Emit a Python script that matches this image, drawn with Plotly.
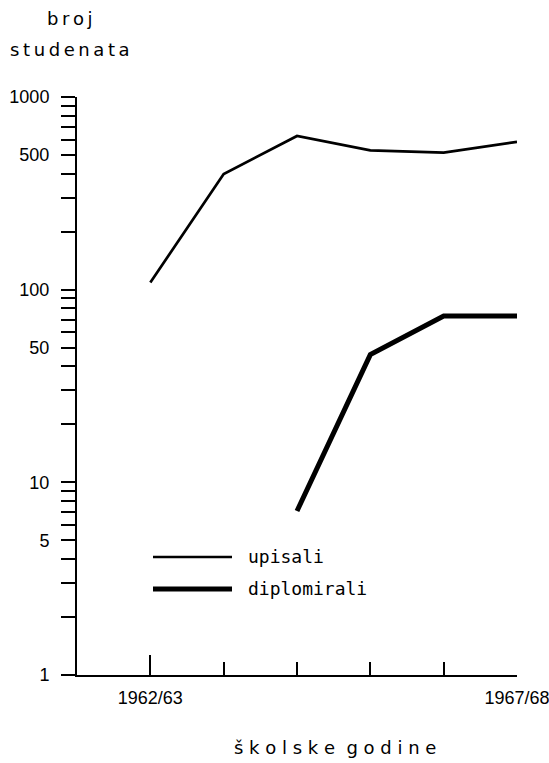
import plotly.graph_objects as go

years = ["1962/63", "1963/64", "1964/65", "1965/66", "1966/67", "1967/68"]
upisali = [109, 398, 628, 529, 515, 585]
diplomirali = [None, None, 7.1, 46, 73, 73]
y_labeled = [1, 5, 10, 50, 100, 500, 1000]
x_labeled = ["1962/63", "1967/68"]

W, H = 549, 763
L, R, T, B = 77, 32, 97, 88
PW, PH = W - L - R, H - T - B


def px(x):
    return (x - L) / PW


def py(y):
    return (H - B - y) / PH


idx = list(range(len(years)))
yt = []
for d in [1, 10, 100]:
    for k in range(1, 10):
        yt.append(k * d)
yt.append(1000)
ytext = [str(v) if v in y_labeled else "" for v in yt]

THIN_W, THICK_W = 2.7, 5

fig = go.Figure()
fig.add_trace(go.Scatter(x=idx, y=upisali, mode="lines", name="upisali",
                         line=dict(color="black", width=THIN_W)))
fig.add_trace(go.Scatter(x=idx, y=diplomirali, mode="lines", name="diplomirali",
                         line=dict(color="black", width=THICK_W)))

major_idx = [years.index(y) for y in x_labeled]
minor_idx = [i for i in idx if i not in major_idx]

fig.update_layout(
    width=W, height=H,
    margin=dict(l=L, r=R, t=T, b=B, autoexpand=False),
    paper_bgcolor="white", plot_bgcolor="white",
    showlegend=False,
    font=dict(family="Liberation Sans, Arial", color="black"),
    xaxis=dict(
        range=[-1, len(years) - 1], showgrid=False, zeroline=False,
        showline=True, linecolor="black", linewidth=2,
        tickmode="array", tickvals=major_idx, ticktext=x_labeled,
        ticks="inside", ticklen=20, tickwidth=2, tickcolor="black",
        tickfont=dict(size=18), ticklabelstandoff=5,
        ticklabeloverflow="allow", automargin=False,
        minor=dict(tickvals=minor_idx, ticks="inside", ticklen=13,
                   tickwidth=2, tickcolor="black", showgrid=False),
    ),
    yaxis=dict(
        type="log", range=[0, 3], showgrid=False, zeroline=False,
        showline=True, linecolor="black", linewidth=2,
        tickmode="array", tickvals=yt, ticktext=ytext,
        ticks="outside", ticklen=14, tickwidth=2, tickcolor="black",
        tickfont=dict(size=18), ticklabelstandoff=8,
        ticklabeloverflow="allow", automargin=False,
    ),
)

# legend drawn manually
fig.add_shape(type="line", xref="paper", yref="paper",
              x0=px(153), x1=px(232), y0=py(557), y1=py(557),
              line=dict(color="black", width=THIN_W))
fig.add_shape(type="line", xref="paper", yref="paper",
              x0=px(153), x1=px(232), y0=py(589), y1=py(589),
              line=dict(color="black", width=THICK_W))
fig.add_annotation(text="upisali", xref="paper", yref="paper", x=px(246), y=py(556),
                   xanchor="left", yanchor="middle", showarrow=False,
                   font=dict(family="DejaVu Sans Mono", size=18))
fig.add_annotation(text="diplomirali", xref="paper", yref="paper", x=px(246), y=py(588),
                   xanchor="left", yanchor="middle", showarrow=False,
                   font=dict(family="DejaVu Sans Mono", size=18))

# axis titles
thin = "\u2009"
sp = "\u00a0"
fig.add_annotation(text=thin.join("broj"), xref="paper", yref="paper", x=px(70), y=py(19),
                   xanchor="center", yanchor="middle", showarrow=False,
                   font=dict(family="DejaVu Sans", size=18))
fig.add_annotation(text=thin.join("studenata"), xref="paper", yref="paper", x=px(70), y=py(49),
                   xanchor="center", yanchor="middle", showarrow=False,
                   font=dict(family="DejaVu Sans", size=18))
fig.add_annotation(text=(sp * 2).join(sp.join(w) for w in ["školske", "godine"]),
                   xref="paper", yref="paper", x=px(335), y=py(747),
                   xanchor="center", yanchor="middle", showarrow=False,
                   font=dict(family="DejaVu Sans", size=18))

fig.write_html("out.html", config={"displayModeBar": False},
               post_script="document.body.style.margin='0';document.body.style.padding='0';")
